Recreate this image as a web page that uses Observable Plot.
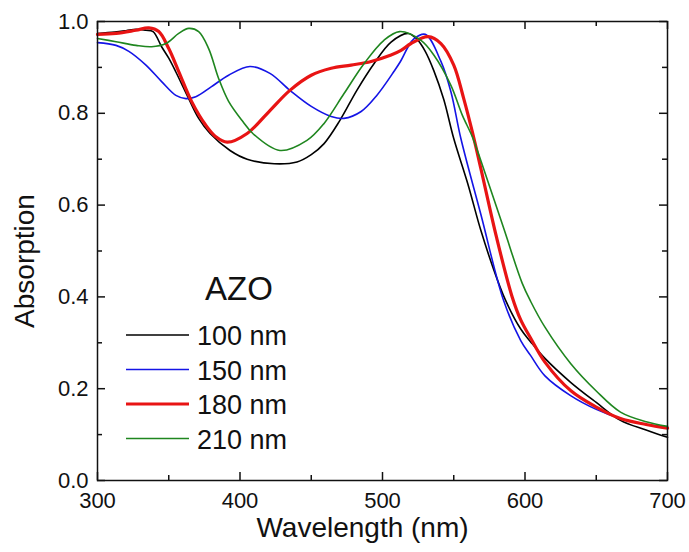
<!DOCTYPE html>
<html>
<head>
<meta charset="utf-8">
<script src="https://cdn.jsdelivr.net/npm/d3@7"></script>
<script src="https://cdn.jsdelivr.net/npm/@observablehq/plot@0.6"></script>
<style>
  html, body { margin: 0; padding: 0; background: #fff; }
  #chart { width: 689px; height: 552px; }
  svg { font-family: "Liberation Sans", Arial, sans-serif; }
</style>
</head>
<body>
<div id="chart"></div>
<script>
// ---- data ----
const seriesNames = ["100 nm", "150 nm", "180 nm", "210 nm"];
const seriesColors = ["#000000", "#1414e6", "#e81414", "#1f861f"];
const seriesWidths = [1.6, 1.6, 3.2, 1.6];

const wl100 = [300,312,320,327,334,339,345,350,355,364,371,379,393,405,424,440,450,459,470,482,494,506,518,524,530,536,543,550,560,569,578,586,597,604,614,632,650,667,685,700];
const ab100 = [0.974,0.977,0.980,0.983,0.981,0.978,0.945,0.92,0.89,0.832,0.789,0.756,0.719,0.70,0.690,0.694,0.71,0.734,0.784,0.85,0.908,0.955,0.974,0.962,0.935,0.893,0.83,0.745,0.645,0.545,0.46,0.395,0.33,0.302,0.266,0.214,0.17,0.131,0.11,0.094];

const wl150 = [300,313,322,334,345,355,362,369,380,392,407,421,435,450,464,473,485,496,508,513,518,522,530,541,548,555,569,585,597,604,614,632,650,667,685,700];
const ab150 = [0.954,0.948,0.935,0.905,0.869,0.839,0.832,0.836,0.858,0.883,0.902,0.887,0.850,0.815,0.793,0.789,0.804,0.839,0.891,0.915,0.945,0.962,0.972,0.913,0.847,0.745,0.58,0.392,0.305,0.272,0.228,0.185,0.155,0.135,0.122,0.116];

const wl180 = [300,313,327,336,343,350,357,366,376,383,391,405,421,435,450,464,478,492,506,513,520,532,541,550,557,563,569,580,591,597,604,614,632,650,667,685,700];
const ab180 = [0.972,0.974,0.981,0.986,0.978,0.941,0.891,0.826,0.774,0.749,0.737,0.756,0.806,0.850,0.883,0.898,0.905,0.913,0.927,0.937,0.952,0.967,0.952,0.905,0.832,0.76,0.68,0.53,0.40,0.35,0.31,0.258,0.196,0.16,0.135,0.122,0.114];

const wl210 = [300,313,327,338,348,357,364,371,378,385,392,402,409,428,447,459,473,487,501,512,527,536,548,556,563,569,585,598,604,614,632,650,667,685,700];
const ab210 = [0.963,0.956,0.948,0.945,0.952,0.974,0.985,0.978,0.941,0.876,0.826,0.782,0.756,0.719,0.741,0.778,0.843,0.908,0.959,0.978,0.959,0.927,0.861,0.796,0.749,0.697,0.55,0.43,0.39,0.334,0.255,0.195,0.149,0.128,0.118];

const xTicks = [300, 400, 500, 600, 700];
const xMinor = [350, 450, 550, 650];
const yTicks = [0, 0.2, 0.4, 0.6, 0.8, 1.0];
const yMinor = [0.1, 0.3, 0.5, 0.7, 0.9];
const legendTitle = "AZO";
const xLabel = "Wavelength (nm)";
const yLabel = "Absorption";

// ---- build table ----
const wls = [wl100, wl150, wl180, wl210];
const abs = [ab100, ab150, ab180, ab210];
const data = [];
seriesNames.forEach((s, i) => wls[i].forEach((w, j) => data.push({series: s, wl: w, a: abs[i][j]})));

const W = 689, H = 552;
const mL = 97, mR = 22, mT = 21, mB = 72;
const pw = W - mL - mR, ph = H - mT - mB;
const maj = 8, mnr = 5;

const lineMarks = seriesNames.map((s, i) =>
  Plot.line(data.filter(d => d.series === s), {
    x: "wl", y: "a", stroke: seriesColors[i], strokeWidth: seriesWidths[i], curve: "catmull-rom"
  })
);

const chart = Plot.plot({
  width: W, height: H,
  marginLeft: mL, marginRight: mR, marginTop: mT, marginBottom: mB,
  style: {fontFamily: "'Liberation Sans', Arial, sans-serif", fontSize: "22px", color: "#111", background: "#fff"},
  x: {domain: [300, 700]},
  y: {domain: [0, 1]},
  marks: [
    ...lineMarks,
    Plot.frame({stroke: "#111", strokeWidth: 1.5}),
    // inward ticks
    Plot.ruleX(xTicks, {x: d => d, insetTop: ph - maj, stroke: "#111", strokeWidth: 1.5}),
    Plot.ruleX(xTicks, {x: d => d, insetBottom: ph - maj, stroke: "#111", strokeWidth: 1.5}),
    Plot.ruleX(xMinor, {x: d => d, insetTop: ph - mnr, stroke: "#111", strokeWidth: 1.5}),
    Plot.ruleX(xMinor, {x: d => d, insetBottom: ph - mnr, stroke: "#111", strokeWidth: 1.5}),
    Plot.ruleY(yTicks, {y: d => d, insetRight: pw - maj, stroke: "#111", strokeWidth: 1.5}),
    Plot.ruleY(yTicks, {y: d => d, insetLeft: pw - maj, stroke: "#111", strokeWidth: 1.5}),
    Plot.ruleY(yMinor, {y: d => d, insetRight: pw - mnr, stroke: "#111", strokeWidth: 1.5}),
    Plot.ruleY(yMinor, {y: d => d, insetLeft: pw - mnr, stroke: "#111", strokeWidth: 1.5}),
    Plot.axisX(xTicks, {tickSize: 0, tickPadding: 12, label: null, fontSize: 22}),
    Plot.axisY(yTicks, {tickSize: 0, tickPadding: 9, label: null, fontSize: 22, tickFormat: d3.format(".1f")}),
    Plot.text([xLabel], {text: d => d, frameAnchor: "bottom", textAnchor: "middle", dx: -20, dy: 56, fontSize: 28, fill: "#111"}),
    Plot.text([yLabel], {text: d => d, frameAnchor: "left", textAnchor: "middle", rotate: -90, dx: -72, dy: 10, fontSize: 28, fill: "#111"})
  ]
});

// ---- legend inside the plot ----
const svg = d3.select(chart);
const lg = svg.append("g").attr("font-family", "'Liberation Sans', Arial, sans-serif").attr("fill", "#111");
lg.append("text").attr("x", 239).attr("y", 300).attr("text-anchor", "middle").attr("font-size", 33).text(legendTitle);
seriesNames.forEach((s, i) => {
  const y = 335 + i * 34.5;
  lg.append("line").attr("x1", 126).attr("x2", 189).attr("y1", y).attr("y2", y)
    .attr("stroke", seriesColors[i]).attr("stroke-width", seriesWidths[i]);
  lg.append("text").attr("x", 197).attr("y", y + 10).attr("text-anchor", "start").attr("font-size", 27).text(s);
});

document.getElementById("chart").appendChild(chart);
</script>
</body>
</html>
